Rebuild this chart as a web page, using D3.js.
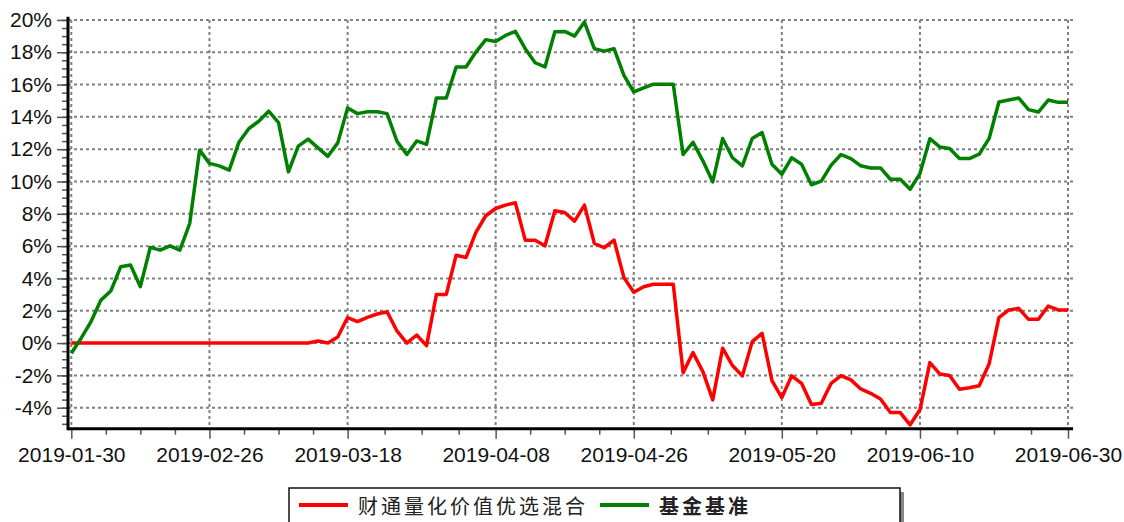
<!DOCTYPE html>
<html lang="zh">
<head>
<meta charset="UTF-8">
<title>财通量化价值优选混合 vs 基金基准</title>
<script src="https://d3js.org/d3.v7.min.js"></script>
<style>
    body {
        margin: 0;
        background: #fff;
        font-family: "Liberation Sans", Arial, sans-serif;
    }

    .grid line {
        stroke: #808080;
        stroke-width: 2;
        stroke-dasharray: 3, 3;
    }

    .axis path {
        display: none;
    }

    .axis line {
        stroke: #555;
        stroke-width: 1.5;
    }

    .axis text {
        font-family: "Liberation Sans", Arial, sans-serif;
        font-size: 21px;
        fill: #111;
    }

    .axis-line {
        stroke: #000;
        stroke-width: 3;
    }

    .series {
        fill: none;
        stroke-width: 3.5;
        stroke-linejoin: round;
    }

    .legend text {
        font-family: "Noto Sans CJK SC", sans-serif;
        font-size: 20px;
        letter-spacing: 3px;
        fill: #222;
    }
</style>
</head>
<body>
<svg id="chart" width="1124" height="522"></svg>
<script>
    // x axis: trading-day index, labelled at a few dates
    const xTickLabels = ["2019-01-30", "2019-02-26", "2019-03-18", "2019-04-08",
        "2019-04-26", "2019-05-20", "2019-06-10", "2019-06-30"];
    const xTickIndex = [0, 14, 28, 43, 57, 72, 86, 101];

    const yTicks = [-4, -2, 0, 2, 4, 6, 8, 10, 12, 14, 16, 18, 20];
    const yMinorTicks = [-5, -4.5, -4, -3.5, -3, -2.5, -2, -1.5, -1, -0.5, 0, 0.5, 1, 1.5, 2, 2.5, 3, 3.5,
        4, 4.5, 5, 5.5, 6, 6.5, 7, 7.5, 8, 8.5, 9, 9.5, 10, 10.5, 11, 11.5, 12, 12.5, 13, 13.5,
        14, 14.5, 15, 15.5, 16, 16.5, 17, 17.5, 18, 18.5, 19, 19.5, 20];

    const seriesNames = ["财通量化价值优选混合", "基金基准"];
    const seriesColors = ["#ff0000", "#008000"];

    // cumulative return, %
    const fundReturn = [
        0, 0, 0, 0, 0, 0, 0, 0, 0, 0, 0, 0, 0, 0, 0, 0, 0, 0, 0, 0, 0, 0, 0, 0,
        0, 0.13, 0, 0.38, 1.58, 1.33, 1.59, 1.80, 1.94, 0.75, 0, 0.50, -0.16,
        3.01, 3.01, 5.44, 5.30, 6.85, 7.88, 8.33, 8.54, 8.68, 6.37, 6.37, 6.02,
        8.19, 8.08, 7.55, 8.54, 6.17, 5.90, 6.37, 4.05, 3.14, 3.49, 3.64, 3.64, 3.64,
        -1.83, -0.59, -1.77, -3.52, -0.32, -1.39, -2.03, 0.09, 0.60, -2.32, -3.37,
        -2.03, -2.49, -3.80, -3.72, -2.49, -2.01, -2.28, -2.84, -3.11, -3.46, -4.30,
        -4.30, -5.06, -4.13, -1.21, -1.91, -2.01, -2.86, -2.76, -2.64, -1.30,
        1.57, 2.05, 2.15, 1.47, 1.47, 2.29, 2.05, 2.05
    ];
    const benchReturn = [
        -0.63, 0.30, 1.33, 2.66, 3.22, 4.72, 4.83, 3.49, 5.92, 5.75, 6.02, 5.75,
        7.40, 11.94, 11.12, 10.97, 10.70, 12.45, 13.28, 13.73, 14.35, 13.64, 10.60,
        12.19, 12.62, 12.08, 11.56, 12.39, 14.55, 14.20, 14.32, 14.32, 14.20, 12.49,
        11.67, 12.51, 12.30, 15.17, 15.17, 17.09, 17.09, 18.01, 18.78, 18.67, 19.04,
        19.29, 18.22, 17.35, 17.09, 19.27, 19.29, 19.00, 19.87, 18.22, 18.07, 18.22,
        16.57, 15.54, 15.79, 16.02, 16.02, 16.02, 11.67, 12.43, 11.28, 9.98, 12.66,
        11.47, 10.97, 12.66, 13.03, 11.07, 10.45, 11.47, 11.07, 9.80, 10.02, 11.01,
        11.67, 11.42, 10.97, 10.84, 10.84, 10.14, 10.14, 9.52, 10.49, 12.65, 12.14,
        12.04, 11.42, 11.42, 11.69, 12.65, 14.92, 15.04, 15.17, 14.45, 14.30, 15.04,
        14.90, 14.90
    ];

    const plot = { left: 68, right: 1073, top: 16.7, bottom: 428.7 };

    const svg = d3.select("#chart");

    const x = d3.scaleLinear()
        .domain([0, fundReturn.length - 1])
        .range([71.3, 1068]);

    const y = d3.scaleLinear()
        .domain([-5.3, 20.2])
        .range([plot.bottom, plot.top]);

    // minor x ticks split each labelled interval in 4
    const xMinor = [];
    for (let k = 0; k < xTickIndex.length - 1; k++) {
        const a = xTickIndex[k], b = xTickIndex[k + 1];
        for (let j = 1; j < 4; j++) xMinor.push(a + (b - a) * j / 4);
    }

    // grid
    const grid = svg.append("g").attr("class", "grid");
    grid.selectAll(".h").data(yTicks).enter().append("line")
        .attr("x1", plot.left).attr("x2", plot.right)
        .attr("y1", d => y(d)).attr("y2", d => y(d));
    grid.selectAll(".v").data(xTickIndex).enter().append("line")
        .attr("x1", d => x(d)).attr("x2", d => x(d))
        .attr("y1", y(20)).attr("y2", plot.bottom);

    // axes
    svg.append("g").attr("class", "axis")
        .attr("transform", `translate(${plot.left},0)`)
        .call(d3.axisLeft(y).tickValues(yMinorTicks).tickSize(6).tickFormat(""));

    svg.append("g").attr("class", "axis")
        .attr("transform", `translate(${plot.left},0)`)
        .call(d3.axisLeft(y).tickValues(yTicks).tickSize(11).tickPadding(5)
            .tickFormat(d => d + "%"));

    svg.append("g").attr("class", "axis")
        .attr("transform", `translate(0,${plot.bottom})`)
        .call(d3.axisBottom(x).tickValues(xMinor).tickSize(6).tickFormat(""));

    svg.append("g").attr("class", "axis")
        .attr("transform", `translate(0,${plot.bottom})`)
        .call(d3.axisBottom(x).tickValues(xTickIndex).tickSize(10).tickPadding(8)
            .tickFormat((d, i) => xTickLabels[i]));

    // series
    const line = d3.line().x((d, i) => x(i)).y(d => y(d));
    [fundReturn, benchReturn].forEach((s, k) => {
        svg.append("path")
            .datum(s)
            .attr("class", "series")
            .attr("stroke", seriesColors[k])
            .attr("d", line);
    });

    svg.append("line").attr("class", "axis-line")
        .attr("x1", plot.left).attr("x2", plot.right)
        .attr("y1", plot.bottom).attr("y2", plot.bottom);
    svg.append("line").attr("class", "axis-line")
        .attr("x1", plot.left).attr("x2", plot.left)
        .attr("y1", plot.top).attr("y2", plot.bottom + 1.5);

    // legend
    const legend = svg.append("g").attr("class", "legend");
    legend.append("rect")
        .attr("x", 900).attr("y", 492).attr("width", 4).attr("height", 40)
        .attr("fill", "#888");
    legend.append("rect")
        .attr("x", 289).attr("y", 488).attr("width", 611).attr("height", 40)
        .attr("fill", "#fff").attr("stroke", "#111").attr("stroke-width", 1.5);

    const legendX = [299, 600];
    const textX = [358, 659];
    seriesNames.forEach((name, k) => {
        legend.append("line")
            .attr("x1", legendX[k]).attr("x2", legendX[k] + 49)
            .attr("y1", 505).attr("y2", 505)
            .attr("stroke", seriesColors[k]).attr("stroke-width", 4);
        legend.append("text")
            .attr("x", textX[k]).attr("y", 505)
            .attr("dominant-baseline", "central")
            .attr("font-weight", k === 1 ? "bold" : "normal")
            .text(name);
    });
</script>
</body>
</html>
